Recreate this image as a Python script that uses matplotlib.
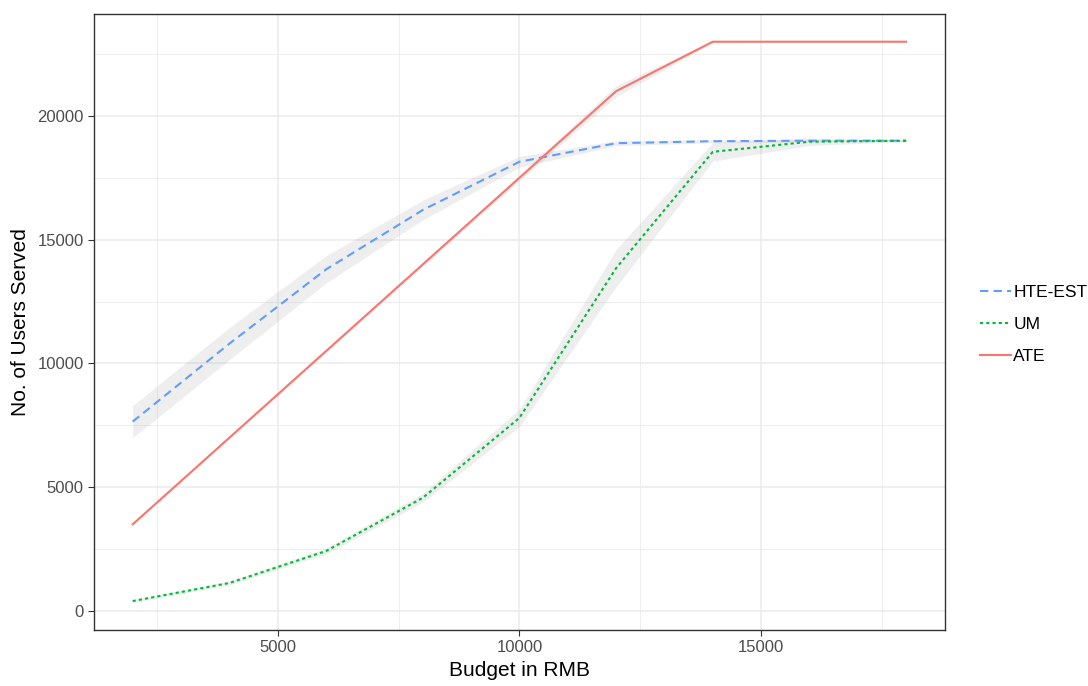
import numpy as np
import matplotlib.pyplot as plt
from matplotlib.lines import Line2D

plt.rcParams['font.family'] = ['Liberation Sans', 'DejaVu Sans']

budget = [2000, 4000, 6000, 8000, 10000, 12000, 14000, 16000, 18000]

hte = [7650, 10800, 13800, 16200, 18150, 18900, 18980, 19000, 19000]
hte_err = [650, 650, 550, 400, 220, 100, 60, 50, 40]

um = [400, 1130, 2420, 4570, 7800, 13850, 18550, 18960, 19000]
um_err = [60, 80, 120, 180, 350, 750, 380, 150, 40]

ate = [3500, 7000, 10500, 14000, 17500, 21000, 23000, 23000, 23000]
ate_err = [30, 40, 60, 80, 120, 220, 40, 30, 30]

series = [
    ('HTE-EST', hte, hte_err, '#619CFF', (0, (4, 2.5))),
    ('UM', um, um_err, '#00BA38', (0, (1.5, 1.5))),
    ('ATE', ate, ate_err, '#F8766D', '-'),
]

fig = plt.figure(figsize=(10.88, 6.86), dpi=100)
ax = fig.add_axes([0.0864, 0.0816, 0.782, 0.898])

# ribbons first, then the lines on top
for name, y, err, col, ls in series:
    y = np.array(y); err = np.array(err)
    ax.fill_between(budget, y - err, y + err, color='#999999', alpha=0.16, lw=0, zorder=2)
for name, y, err, col, ls in series:
    ax.plot(budget, y, color=col, linestyle=ls, lw=1.5, zorder=3)

ax.set_xlim(1200, 18800)
ax.set_ylim(-770, 24120)
ax.set_xticks([5000, 10000, 15000])
ax.set_xticks([2500, 7500, 12500, 17500], minor=True)
ax.set_yticks([0, 5000, 10000, 15000, 20000])
ax.set_yticks([2500, 7500, 12500, 17500, 22500], minor=True)
ax.grid(True, which='major', color='#EBEBEB', lw=1.1, zorder=0)
ax.grid(True, which='minor', color='#EBEBEB', lw=0.6, zorder=0)
ax.set_axisbelow(True)
ax.tick_params(which='major', length=4, color='#333333', labelsize=12, labelcolor='#4D4D4D')
ax.tick_params(which='minor', length=0)
for s in ax.spines.values():
    s.set_color('#333333')
    s.set_linewidth(1.0)

ax.set_xlabel('Budget in RMB', fontsize=15, labelpad=4)
ax.set_ylabel('No. of Users Served', fontsize=15, labelpad=5)

handles = [Line2D([], [], color=c, linestyle=ls, lw=1.5) for _, _, _, c, ls in series]
fig.legend(handles, [s[0] for s in series], loc='center left',
           bbox_to_anchor=(0.886, 0.527), frameon=False, fontsize=12.5,
           handlelength=1.8, handletextpad=0.15, labelspacing=0.95)

fig.savefig('out.png', dpi=100)
